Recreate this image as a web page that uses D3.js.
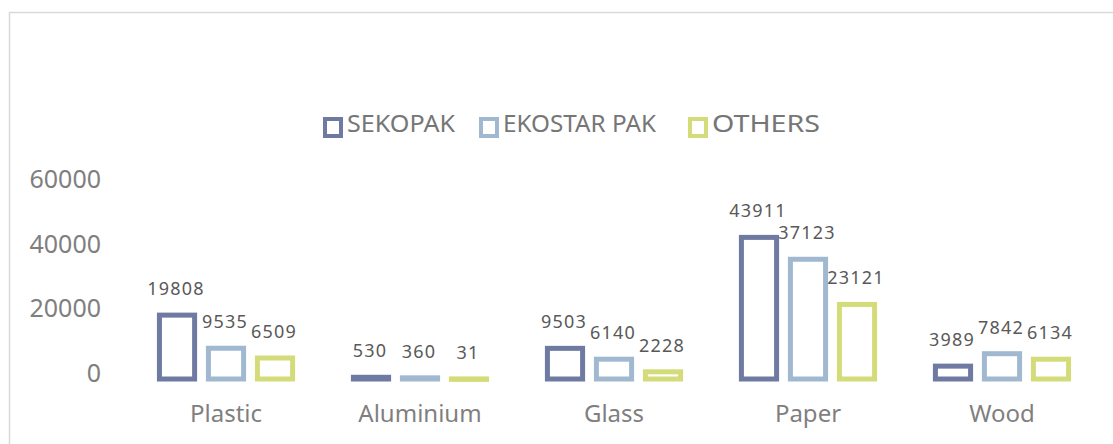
<!DOCTYPE html>
<html>
<head>
<meta charset="utf-8">
<script src="https://cdn.jsdelivr.net/npm/d3@7"></script>
<style>
    html, body { margin: 0; padding: 0; background: #fff; }
    svg text { font-family: "Noto Sans", "Open Sans", sans-serif; }
</style>
</head>
<body>
<div id="chart"></div>
<script>
// Kategoriler ve seriler
const categories = ['Plastic', 'Aluminium', 'Glass', 'Paper', 'Wood'];
const seriesNames = ['SEKOPAK', 'EKOSTAR PAK', 'OTHERS'];
const sekopak = [19808, 530, 9503, 43911, 3989];
const ekostar = [9535, 360, 6140, 37123, 7842];
const others = [6509, 31, 2228, 23121, 6134];
const yTicks = [0, 20000, 40000, 60000];

const colors = ['#6f7aa2', '#a0b9d1', '#d4dc7a'];
const seriesValues = [sekopak, ekostar, others];

const width = 1113;
const height = 444;
const baseY = 379;

const svg = d3.select('#chart')
    .append('svg')
    .attr('width', width)
    .attr('height', height);

// Çerçeve
svg.append('rect')
    .attr('x', 9.5)
    .attr('y', 12.5)
    .attr('width', 1200)
    .attr('height', 500)
    .attr('fill', 'none')
    .attr('stroke', '#d9d9d9')
    .attr('stroke-width', 1.5);

// Ölçekler
const x0 = d3.scaleBand()
    .domain(categories)
    .range([129, 1099])
    .paddingInner(0.2423)
    .paddingOuter(0.1212);

const x1 = d3.scaleBand()
    .domain(seriesNames)
    .range([0, x0.bandwidth()])
    .paddingInner(0.18)
    .paddingOuter(0.09);

const y = d3.scaleLinear()
    .domain([0, 60000])
    .range([baseY, 185.5]);

// Y ekseni etiketleri
svg.append('g')
    .selectAll('text')
    .data(yTicks)
    .enter()
    .append('text')
    .attr('x', 101)
    .attr('y', d => y(d) - 4)
    .attr('dominant-baseline', 'middle')
    .attr('text-anchor', 'end')
    .attr('font-size', 25)
    .attr('fill', '#7f7f7f')
    .text(d => d);

// Çubuklar
const rows = [];
categories.forEach((c, i) => {
    seriesNames.forEach((s, j) => {
        rows.push({ cat: c, series: s, value: seriesValues[j][i], color: colors[j] });
    });
});

const sw = 5;
svg.append('g')
    .selectAll('rect')
    .data(rows)
    .enter()
    .append('rect')
    .attr('x', d => x0(d.cat) + x1(d.series) + sw / 2)
    .attr('y', d => y(d.value))
    .attr('width', x1.bandwidth() - sw)
    .attr('height', d => Math.max(baseY - y(d.value), 0.5))
    .attr('fill', 'none')
    .attr('stroke', d => d.color)
    .attr('stroke-width', sw);

// Değer etiketleri
svg.append('g')
    .selectAll('text')
    .data(rows)
    .enter()
    .append('text')
    .attr('x', d => x0(d.cat) + x1(d.series) + x1.bandwidth() / 2 - 1)
    .attr('y', d => y(d.value) - 20)
    .attr('text-anchor', 'middle')
    .attr('font-size', 18)
    .attr('letter-spacing', 1.2)
    .attr('fill', '#595959')
    .text(d => d.value);

// Kategori etiketleri
svg.append('g')
    .selectAll('text')
    .data(categories)
    .enter()
    .append('text')
    .attr('x', d => x0(d) + x0.bandwidth() / 2)
    .attr('y', 422)
    .attr('text-anchor', 'middle')
    .attr('font-size', 24)
    .attr('fill', '#7f7f7f')
    .text(d => d);

// Lejant
const legendX = [323, 479, 688];
const legendLen = [108, 153, 108];
const legend = svg.append('g')
    .selectAll('g')
    .data(seriesNames)
    .enter()
    .append('g')
    .attr('transform', (d, i) => `translate(${legendX[i]},117)`);

legend.append('rect')
    .attr('x', 2)
    .attr('y', 2)
    .attr('width', 16)
    .attr('height', 17)
    .attr('fill', 'none')
    .attr('stroke', (d, i) => colors[i])
    .attr('stroke-width', 4);

legend.append('text')
    .attr('x', 24)
    .attr('y', 9)
    .attr('dominant-baseline', 'middle')
    .attr('font-size', 24)
    .attr('textLength', (d, i) => legendLen[i])
    .attr('lengthAdjust', 'spacingAndGlyphs')
    .attr('fill', '#767676')
    .text(d => d);
</script>
</body>
</html>
